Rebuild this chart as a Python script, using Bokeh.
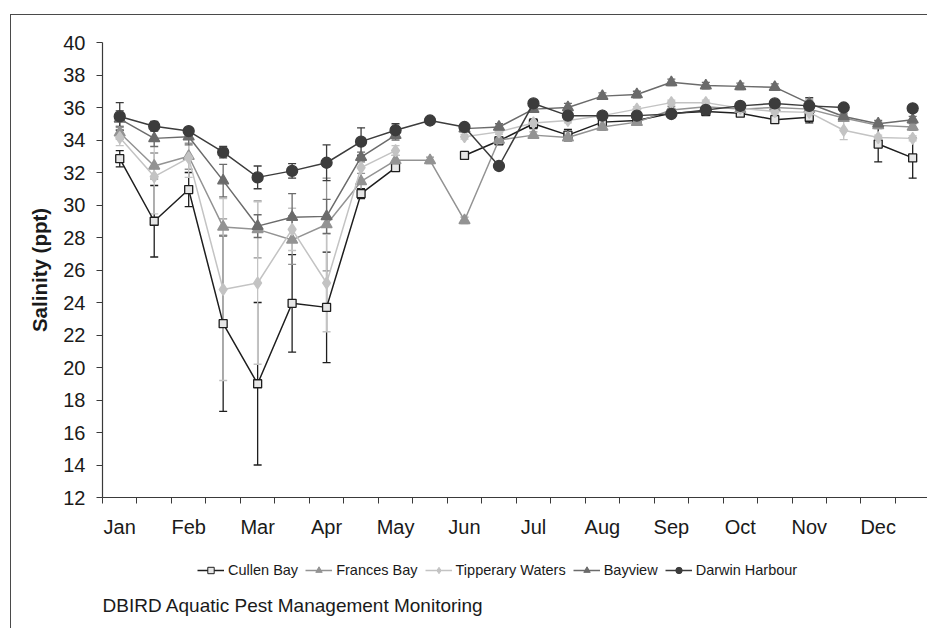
import math
from bokeh.plotting import figure
from bokeh.layouts import column
from bokeh.models import (FixedTicker, Whisker, ColumnDataSource, Legend, LegendItem,
                          Label, TeeHead, Range1d)
from bokeh.embed import file_html
from bokeh.resources import INLINE

nan = float("nan")

# ---- data -------------------------------------------------------------
months = ["Jan", "Feb", "Mar", "Apr", "May", "Jun", "Jul", "Aug", "Sep", "Oct", "Nov", "Dec"]
fortnight = list(range(1, 25))          # two samples per month
y_ticks = list(range(12, 41, 2))

cullen = [32.85, 29.0, 30.95, 22.7, 19.0, 23.95, 23.7, 30.7, 32.3, nan, 33.05, 33.95,
          35.0, 34.3, 35.1, 35.2, 35.65, 35.75, 35.65, 35.25, 35.4, nan, 33.75, 32.9]
cullen_err = [0.5, 2.2, 1.05, 5.4, 5.0, 3.0, 3.4, 0.3, 0.2, nan, 0.2, 0.2,
              0.3, 0.35, 0.2, 0.15, 0.1, 0.1, 0.1, 0.15, 0.35, nan, 1.1, 1.25]

frances = [34.45, 32.4, 33.0, 28.65, 28.5, 27.85, 28.8, 31.45, 32.75, 32.75, 29.05, 34.0,
           34.3, 34.15, 34.8, 35.1, 35.85, 36.05, 35.9, 36.0, 35.9, 35.35, 34.9, 34.8]
frances_err = [0.4, 0.8, 0.8, 0.5, 1.75, 1.5, 2.85, 0.5, 0.3, 0.2, 0.2, 0.2,
               0.2, 0.2, 0.2, 0.2, 0.2, 0.2, 0.2, 0.2, 0.2, 0.2, 0.2, 0.2]

tipperary = [34.15, 31.75, 32.9, 24.8, 25.2, 28.5, 25.2, 32.3, 33.35, nan, 34.2, 34.5,
             35.05, 35.2, 35.5, 35.9, 36.3, 36.3, 35.95, 35.75, 35.7, 34.6, 34.15, 34.1]
tipperary_err = [0.5, 2.3, 1.2, 5.6, 5.0, 1.3, 3.0, 0.8, 0.3, nan, 0.15, 0.15,
                 0.2, 0.15, 0.15, 0.15, 0.15, 0.15, 0.15, 0.15, 0.15, 0.58, 0.15, 0.15]

bayview = [35.3, 34.1, 34.2, 31.5, 28.7, 29.25, 29.3, 32.95, 34.3, nan, 34.7, 34.8,
           35.9, 36.0, 36.7, 36.8, 37.55, 37.35, 37.3, 37.25, 36.25, 35.45, 35.0, 35.25]
bayview_err = [0.5, 0.5, 0.5, 1.0, 0.7, 1.45, 1.05, 0.3, 0.3, nan, 0.2, 0.2,
               0.2, 0.25, 0.2, 0.2, 0.2, 0.2, 0.2, 0.2, 0.2, 0.2, 0.2, 0.2]

darwin = [35.45, 34.85, 34.55, 33.25, 31.7, 32.1, 32.6, 33.9, 34.6, 35.2, 34.8, 32.4,
          36.25, 35.5, 35.5, 35.5, 35.6, 35.85, 36.1, 36.25, 36.1, 36.0, nan, 35.95]
darwin_err = [0.85, 0.3, 0.2, 0.35, 0.7, 0.45, 1.1, 0.85, 0.4, 0.15, 0.15, 0.15,
              0.15, 0.15, 0.15, 0.15, 0.15, 0.15, 0.15, 0.15, 0.5, 0.15, nan, 0.15]

series = [
    # name, values, errors, line colour, marker, fill colour, marker line colour, size
    ("Cullen Bay", cullen, cullen_err, "#1e1e1e", "square", "#e6e6e6", "#1e1e1e", 8),
    ("Frances Bay", frances, frances_err, "#939393", "triangle", "#939393", "#939393", 11),
    ("Tipperary Waters", tipperary, tipperary_err, "#c3c3c3", "diamond", "#c3c3c3", "#c3c3c3", 12),
    ("Bayview", bayview, bayview_err, "#6b6b6b", "triangle", "#6b6b6b", "#6b6b6b", 11),
    ("Darwin Harbour", darwin, darwin_err, "#3c3c3c", "circle", "#3c3c3c", "#3c3c3c", 11),
]

FONT = "Liberation Sans"

# ---- main chart -------------------------------------------------------
p = figure(width=916, height=545, output_backend="svg", toolbar_location=None,
           x_range=Range1d(0.5, 24.43), y_range=Range1d(12, 40),
           min_border_left=91, min_border_right=0, min_border_top=27, min_border_bottom=63)
p.outline_line_color = None
p.grid.visible = False
p.background_fill_color = "white"
p.border_fill_color = "white"

label_pos = [fortnight[2 * i] for i in range(12)]
p.xaxis.ticker = FixedTicker(ticks=label_pos, minor_ticks=[f - 0.5 for f in fortnight] + [24.5])
p.xaxis.major_label_overrides = {pos: m for pos, m in zip(label_pos, months)}
p.xaxis.major_tick_out = 0
p.xaxis.major_tick_in = 0
p.xaxis.minor_tick_out = 6
p.xaxis.minor_tick_in = 0
p.xaxis.major_label_standoff = 12

p.yaxis.ticker = FixedTicker(ticks=y_ticks)
p.yaxis.major_tick_out = 6
p.yaxis.major_tick_in = 0
p.yaxis.major_label_standoff = 11
p.yaxis.axis_label = "Salinity (ppt)"
p.yaxis.axis_label_standoff = 9
p.yaxis.axis_label_text_font = FONT
p.yaxis.axis_label_text_font_style = "bold"
p.yaxis.axis_label_text_font_size = "20.5px"
p.yaxis.axis_label_text_color = "#1a1a1a"

for ax in (p.xaxis, p.yaxis):
    ax.axis_line_color = "#3a3a3a"
    ax.axis_line_width = 1.2
    ax.major_tick_line_color = "#3a3a3a"
    ax.minor_tick_line_color = "#3a3a3a"
    ax.major_label_text_font = FONT
    ax.major_label_text_font_size = "20px"
    ax.major_label_text_color = "#1a1a1a"
p.yaxis.minor_tick_line_color = None

# ---- legend / caption strip under the chart ----------------------------
q = figure(width=916, height=68, output_backend="svg", toolbar_location=None,
           x_range=Range1d(0, 1), y_range=Range1d(0, 1),
           x_axis_location=None, y_axis_location=None,
           min_border_left=0, min_border_right=0, min_border_top=0, min_border_bottom=0)
q.outline_line_color = None
q.grid.visible = False
q.border_fill_color = "white"

items = []
for name, vals, errs, lc, marker, fc, mlc, size in series:
    ok = [i for i in range(len(vals)) if not math.isnan(vals[i]) and not math.isnan(errs[i])]
    wsrc = ColumnDataSource(dict(
        x=[fortnight[i] for i in ok],
        lower=[vals[i] - errs[i] for i in ok],
        upper=[vals[i] + errs[i] for i in ok]))
    w = Whisker(base="x", lower="lower", upper="upper", source=wsrc, dimension="height",
                line_color=lc, line_width=1.3, level="underlay",
                upper_head=TeeHead(size=8, line_color=lc, line_width=1.3),
                lower_head=TeeHead(size=8, line_color=lc, line_width=1.3))
    p.add_layout(w)
    src = ColumnDataSource(dict(x=fortnight, y=vals))
    p.line("x", "y", source=src, line_color=lc, line_width=1.5)
    p.scatter("x", "y", source=src, marker=marker, size=size,
              fill_color=fc, line_color=mlc, line_width=1.3)
    # legend keys (same styles) in the strip below; their single point lies outside the view
    kl = q.line([-10, -9], [-10, -10], line_color=lc, line_width=1.5)
    ks = q.scatter([-10], [-10], marker=marker, size=size * 0.75,
                   fill_color=fc, line_color=mlc, line_width=1.0)
    items.append(LegendItem(label=name, renderers=[kl, ks]))

legend = Legend(items=items, orientation="horizontal", location=(95, 50),
                label_text_font=FONT, label_text_font_size="14.5px", label_text_color="#1a1a1a",
                glyph_width=27, glyph_height=16, label_height=16,
                label_standoff=4, spacing=7,
                padding=0, margin=0, border_line_color=None, background_fill_alpha=0)
q.add_layout(legend, "center")

caption = Label(x=0, y=23.5, x_units="screen", y_units="screen",
                text="DBIRD Aquatic Pest Management Monitoring",
                text_font=FONT, text_font_size="19px", text_color="#1a1a1a",
                text_baseline="middle", text_align="left")
q.add_layout(caption)

layout = column(p, q, spacing=0)
layout.styles = {"border-left": "1px solid #4a4a4a", "border-top": "1px solid #4a4a4a",
                 "margin-left": "10px", "margin-top": "14px"}

open("out.html", "w").write(file_html(layout, INLINE))
